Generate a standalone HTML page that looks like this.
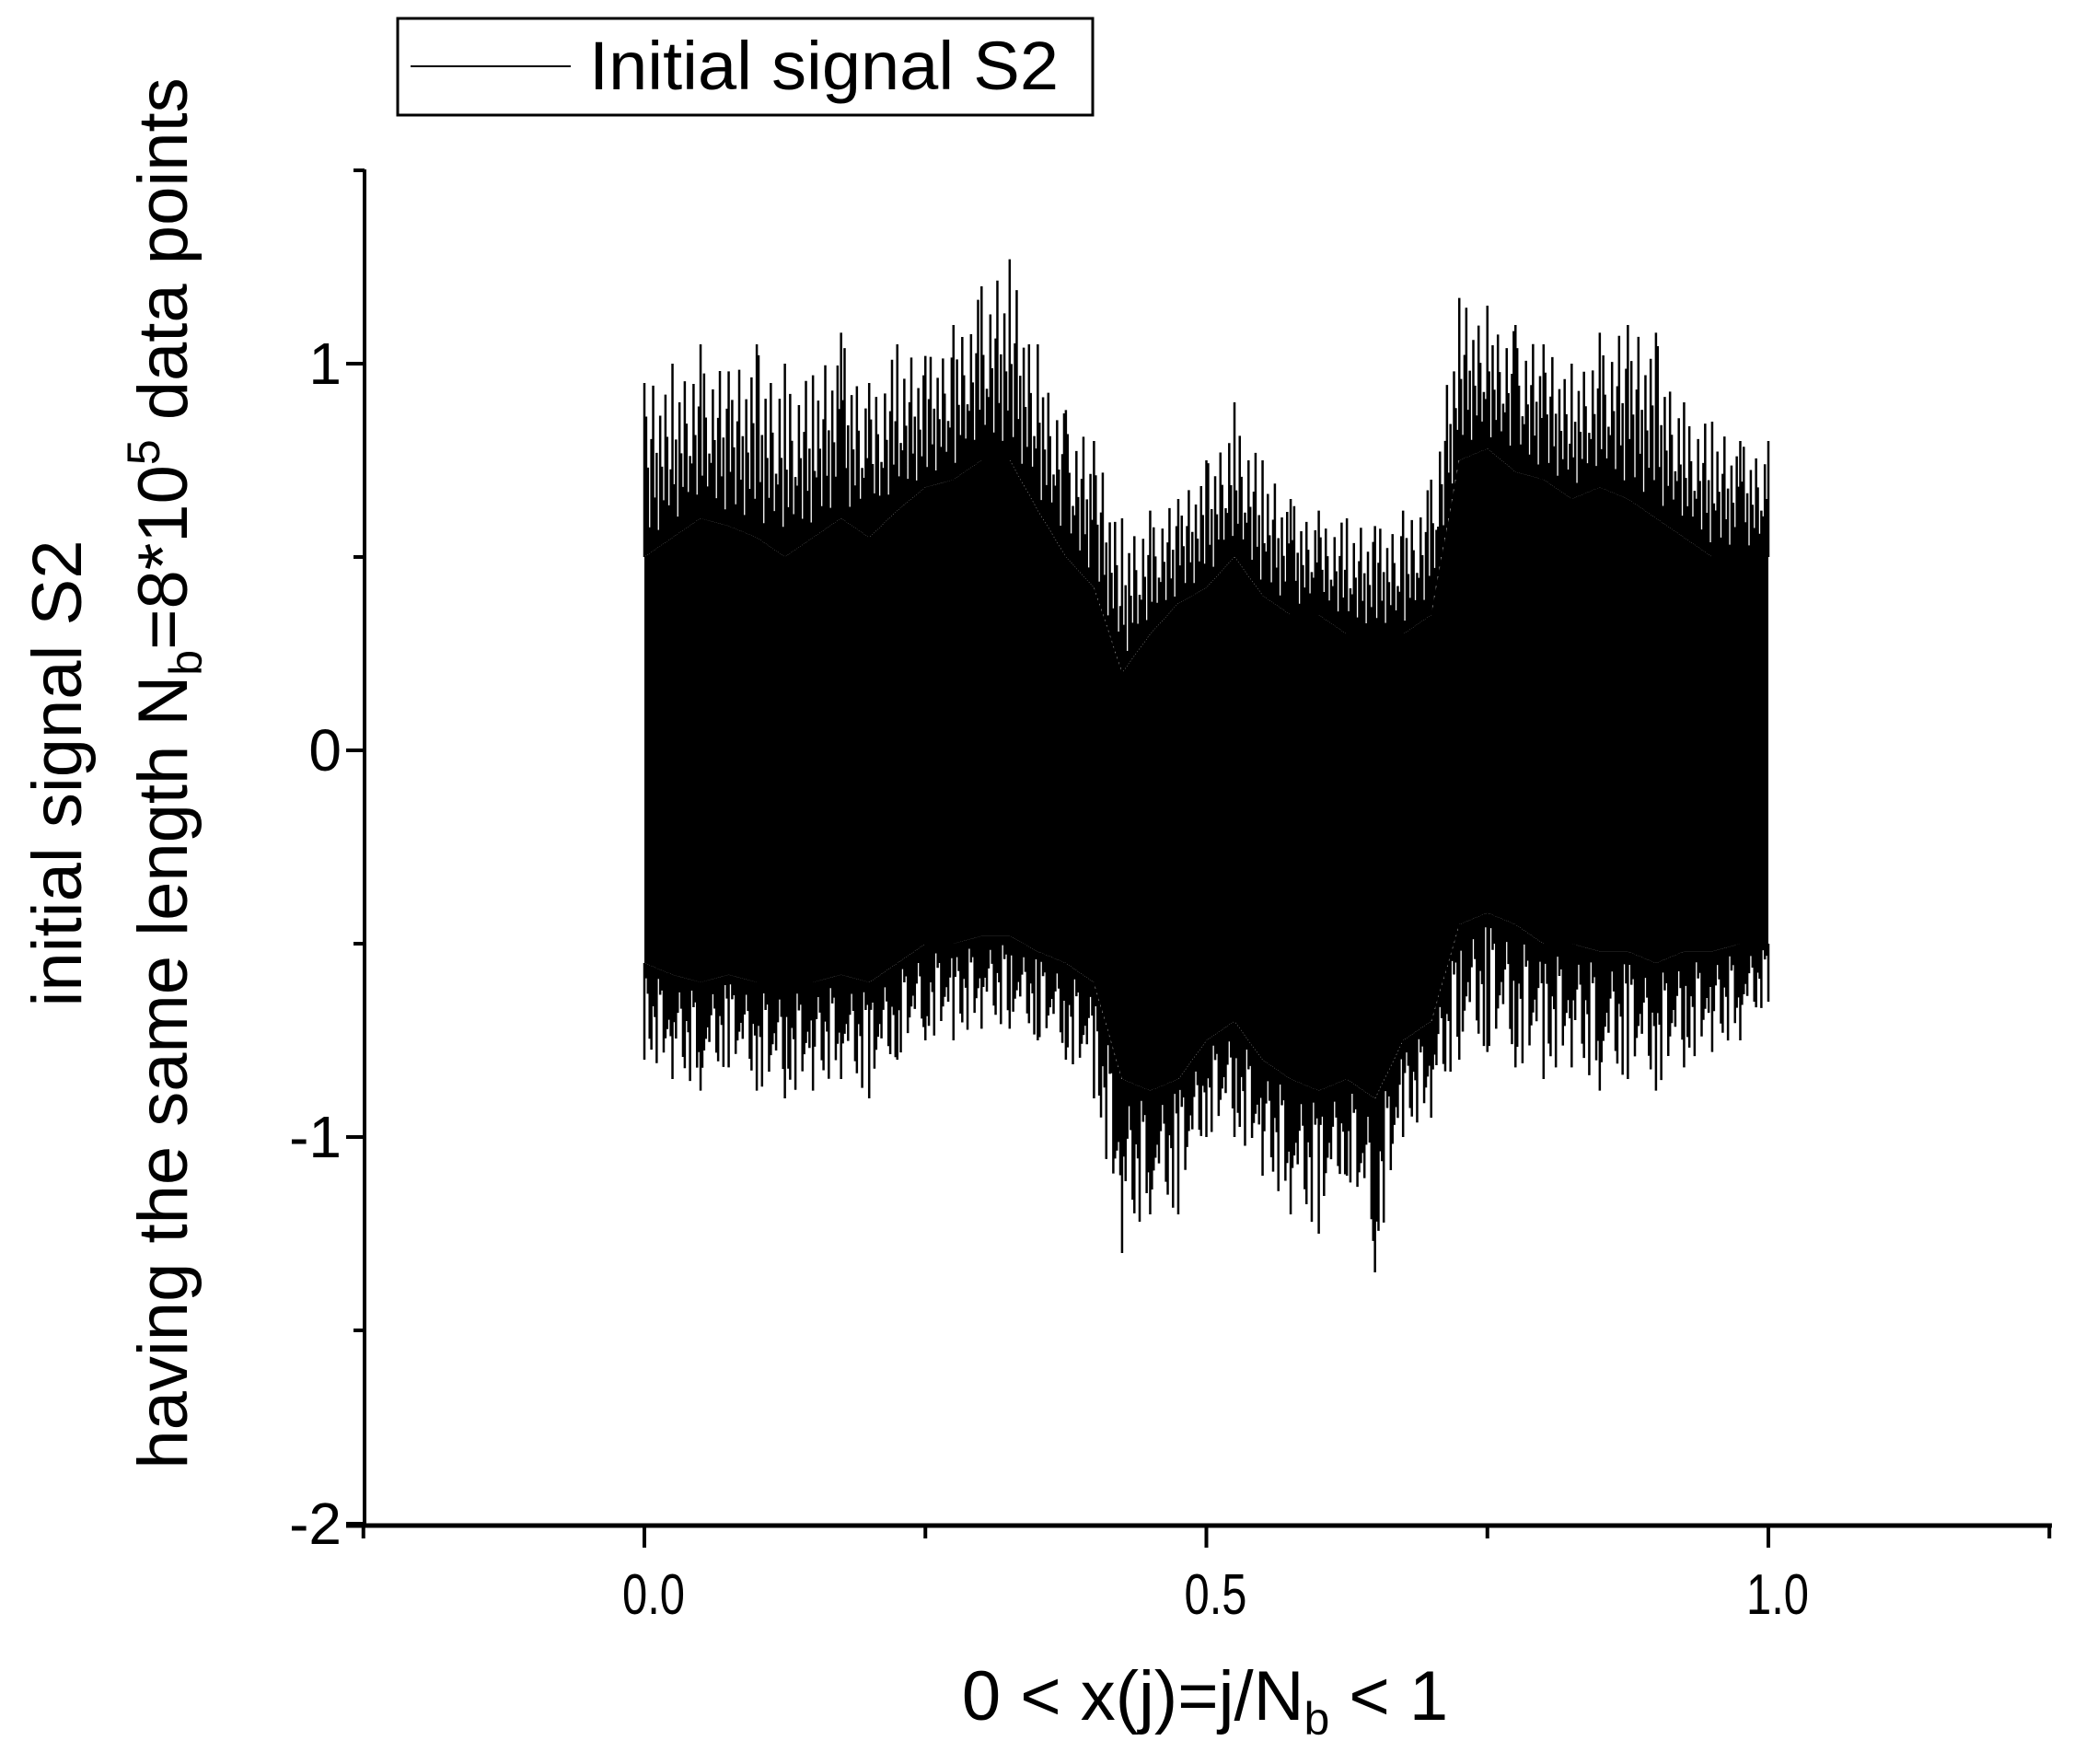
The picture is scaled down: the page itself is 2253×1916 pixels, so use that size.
<!DOCTYPE html>
<html><head><meta charset="utf-8"><style>
html,body{margin:0;padding:0;background:#fff}
svg text{font-family:"Liberation Sans",Arial,sans-serif;fill:#000}
</style></head><body>
<svg id="chart" width="2253" height="1911" viewBox="0 0 2253 1911" xmlns="http://www.w3.org/2000/svg">
<g>
<rect x="432" y="20" width="755" height="105" fill="#fff" stroke="#000" stroke-width="3"/>
<line x1="446" y1="72" x2="620" y2="72" stroke="#000" stroke-width="2"/>
<text x="640" y="97" font-size="74" textLength="510" lengthAdjust="spacingAndGlyphs">Initial signal S2</text>
</g>
<g id="axes"></g>
<g id="series"></g>
<text x="1309" y="1868" font-size="76" text-anchor="middle">0 &lt; x(j)=j/N<tspan font-size="50" dy="16">b</tspan><tspan dy="-16"> &lt; 1</tspan></text>
<g transform="translate(88,840) rotate(-90)">
<text x="0" y="0" font-size="76" text-anchor="middle">initial signal S2</text>
<text x="0" y="115" font-size="76" text-anchor="middle">having the same length N<tspan font-size="50" dy="16">b</tspan><tspan dy="-16">=8*10</tspan><tspan font-size="50" dy="-30">5</tspan><tspan dy="30"> data points</tspan></text>
</g>
</svg>
<script>
// data: envelope samples at x = 0, 0.025, ..., 1.0
const xs = [0,0.025,0.05,0.075,0.1,0.125,0.15,0.175,0.2,0.225,0.25,0.275,0.3,0.325,0.35,0.375,0.4,0.425,0.45,0.475,0.5,0.525,0.55,0.575,0.6,0.625,0.65,0.675,0.7,0.725,0.75,0.775,0.8,0.825,0.85,0.875,0.9,0.925,0.95,0.975,1.0];
const peakHigh = [0.95,1.0,1.05,0.98,1.05,1.0,0.97,1.08,0.95,1.05,1.02,1.1,1.2,1.27,1.05,0.88,0.8,0.6,0.62,0.65,0.75,0.9,0.75,0.65,0.62,0.6,0.58,0.62,0.7,1.17,1.15,1.1,1.05,1.0,1.08,1.1,1.08,0.9,0.85,0.8,0.8];
const coreHigh = [0.5,0.55,0.6,0.58,0.55,0.5,0.55,0.6,0.55,0.62,0.68,0.7,0.75,0.75,0.62,0.5,0.42,0.2,0.3,0.38,0.42,0.5,0.4,0.35,0.35,0.3,0.3,0.3,0.35,0.75,0.78,0.72,0.7,0.65,0.68,0.65,0.6,0.55,0.5,0.5,0.5];
const coreLow = [-0.55,-0.58,-0.6,-0.58,-0.6,-0.6,-0.6,-0.58,-0.6,-0.55,-0.5,-0.5,-0.48,-0.48,-0.52,-0.55,-0.6,-0.85,-0.88,-0.85,-0.75,-0.7,-0.8,-0.85,-0.88,-0.85,-0.9,-0.75,-0.7,-0.45,-0.42,-0.45,-0.5,-0.5,-0.52,-0.52,-0.55,-0.52,-0.52,-0.5,-0.5];
const peakLow = [-0.8,-0.85,-0.88,-0.82,-0.88,-0.9,-0.88,-0.85,-0.9,-0.8,-0.75,-0.75,-0.72,-0.72,-0.75,-0.8,-0.9,-1.3,-1.2,-1.2,-1.0,-1.0,-1.1,-1.2,-1.25,-1.1,-1.35,-1.0,-0.95,-0.8,-0.78,-0.82,-0.85,-0.82,-0.88,-0.85,-0.88,-0.82,-0.78,-0.75,-0.65];
const xTicks = [0,0.5,1.0];
const xTickLabels = ["0.0","0.5","1.0"];
const xMinor = [-0.25,0.25,0.75,1.25];
const yTicks = [1,0,-1,-2];
const yTickLabels = ["1","0","-1","-2"];
const yMinor = [1.5,0.5,-0.5,-1.5];

const NS='http://www.w3.org/2000/svg';
const X0=396, X1=2229, Ytop=184, Ybot=1657;
const sx = v => 700 + v*(1921-700);
const sy = v => 815 - v*(815-395);
function mk(tag, attrs, parent){const e=document.createElementNS(NS,tag);for(const k in attrs)e.setAttribute(k,attrs[k]);parent.appendChild(e);return e;}
const axes=document.getElementById('axes');
let a=mk('line',{x1:X0,y1:Ytop,x2:X0,y2:Ybot+2,stroke:'#000','stroke-width':4},axes);


a=mk('line',{x1:X0-20,y1:Ybot,x2:X1,y2:Ybot,stroke:'#000','stroke-width':5},axes);


xTicks.forEach((v,i)=>{
  const t=mk('line',{x1:sx(v),y1:Ybot,x2:sx(v),y2:Ybot+24,stroke:'#000','stroke-width':4},axes);
  
  
  const l=mk('text',{x:sx(v)+10,y:1753,'font-size':62,'text-anchor':'middle',textLength:68,lengthAdjust:'spacingAndGlyphs'},axes);
  l.textContent=xTickLabels[i];
  
  
});
xMinor.forEach(v=>{
  const t=mk('line',{x1:sx(v),y1:Ybot,x2:sx(v),y2:Ybot+14,stroke:'#000','stroke-width':4},axes);
  
  
});
yTicks.forEach((v,i)=>{
  const t=mk('line',{x1:X0-20,y1:sy(v),x2:X0,y2:sy(v),stroke:'#000','stroke-width':4},axes);
  
  
  const l=mk('text',{x:371,y:sy(v)+22,'font-size':64,'text-anchor':'end'},axes);
  l.textContent=yTickLabels[i];
  
  
});
yMinor.forEach(v=>{
  const t=mk('line',{x1:X0-12,y1:sy(v),x2:X0,y2:sy(v),stroke:'#000','stroke-width':4},axes);
  
  
});
const ser=document.getElementById('series');
let d='M'+xs.map((x,i)=>sx(x)+','+sy(coreHigh[i])).join(' L');
for(let i=xs.length-1;i>=0;i--) d+=' L'+sx(xs[i])+','+sy(coreLow[i]);
d+=' Z';
const band=mk('path',{d:d,fill:'#000'},ser);


// spikes drawn from envelope arrays; pattern controls texture only
const pat=[0.35,0.8,0.5,0.15,0.65,0.95,0.3,0.55,0.1,0.75,0.45,0.25,0.85,0.6,0.2,0.4];
let sp='';
for(let i=0;i<xs.length;i++){
  sp+=`M${sx(xs[i])},${sy(coreHigh[i])} L${sx(xs[i])},${sy(peakHigh[i])} `;
  sp+=`M${sx(xs[i])},${sy(coreLow[i])} L${sx(xs[i])},${sy(peakLow[i])} `;
  if(i<xs.length-1){
    const n=16;
    for(let k=1;k<n;k++){
      const f=k/n, x=sx(xs[i]+(xs[i+1]-xs[i])*f);
      const ph=peakHigh[i]+(peakHigh[i+1]-peakHigh[i])*f, ch=coreHigh[i]+(coreHigh[i+1]-coreHigh[i])*f;
      const pl=peakLow[i]+(peakLow[i+1]-peakLow[i])*f, cl=coreLow[i]+(coreLow[i+1]-coreLow[i])*f;
      const w1=pat[(k+i*5)%pat.length], w2=pat[(k*3+i*7)%pat.length];
      sp+=`M${x},${sy(ch)} L${x},${sy(ch+(ph-ch)*w1)} `;
      sp+=`M${x},${sy(cl)} L${x},${sy(cl+(pl-cl)*w2)} `;
    }
  }
}
const spikes=mk('path',{d:sp,stroke:'#000','stroke-width':2.5,fill:'none'},ser);


</script>
</body></html>
